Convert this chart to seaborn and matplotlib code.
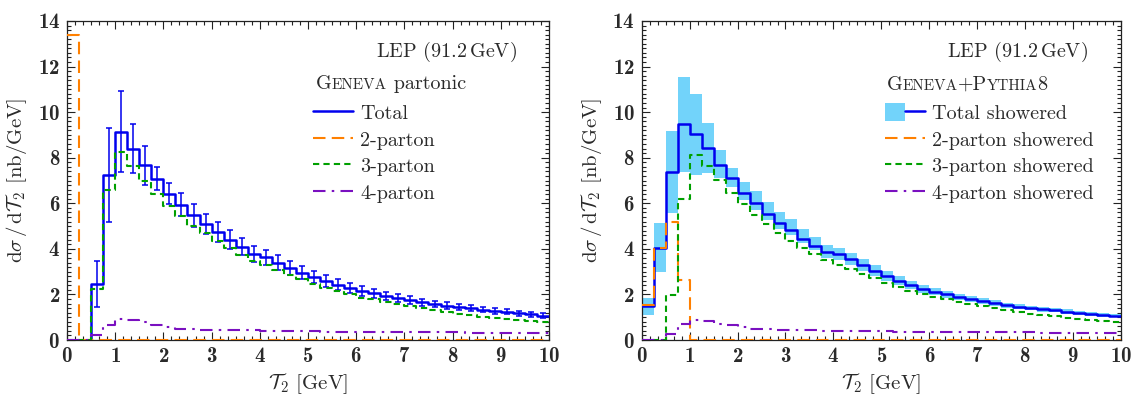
import numpy as np
import matplotlib
matplotlib.use("Agg")
import matplotlib.pyplot as plt
import seaborn as sns
from matplotlib.lines import Line2D
from matplotlib.patches import Patch
from matplotlib.legend_handler import HandlerTuple
from matplotlib.offsetbox import TextArea, HPacker, AnnotationBbox
from matplotlib.ticker import MultipleLocator, AutoMinorLocator

# ---------------- data ----------------
edges = [i * 0.25 for i in range(41)]  # bin edges of T2 [GeV]

left_total = [0, 0, 2.46, 7.24, 9.14, 8.39, 7.66, 7.08, 6.42, 5.94, 5.48, 5.10, 4.75, 4.40, 4.09, 3.79,
              3.63, 3.39, 3.17, 2.95, 2.76, 2.59, 2.43, 2.28, 2.15, 2.05, 1.93, 1.83, 1.74, 1.65, 1.58, 1.51,
              1.45, 1.39, 1.33, 1.27, 1.23, 1.18, 1.13, 1.07]
left_total_err = [0, 0, 1.00, 2.05, 1.77, 1.07, 0.84, 0.50, 0.45, 0.50, 0.50, 0.45, 0.45, 0.42, 0.38, 0.35,
                  0.34, 0.32, 0.30, 0.28, 0.27, 0.25, 0.24, 0.23, 0.22, 0.20, 0.19, 0.18, 0.17, 0.16, 0.15, 0.14,
                  0.13, 0.13, 0.12, 0.12, 0.11, 0.11, 0.10, 0.10]
left_2p = [13.4] + [0] * 39
left_3p = [0, 0, 2.22, 6.58, 8.25, 7.63, 7.00, 6.40, 5.88, 5.44, 5.01, 4.68, 4.36, 4.04, 3.73, 3.46,
           3.30, 3.07, 2.86, 2.66, 2.47, 2.30, 2.15, 2.01, 1.85, 1.78, 1.68, 1.60, 1.48, 1.40, 1.30, 1.23,
           1.15, 1.10, 1.00, 0.95, 0.90, 0.86, 0.82, 0.77]
left_4p = [0, 0, 0.22, 0.66, 0.92, 0.87, 0.80, 0.66, 0.55, 0.50, 0.48, 0.46, 0.45, 0.44, 0.43, 0.42,
           0.41, 0.40, 0.39, 0.39, 0.38, 0.37, 0.37, 0.36, 0.36, 0.35, 0.35, 0.34, 0.34, 0.34, 0.33, 0.33,
           0.33, 0.32, 0.32, 0.32, 0.31, 0.31, 0.31, 0.30]

right_total = [1.49, 4.02, 7.37, 9.49, 9.04, 8.42, 7.69, 7.12, 6.46, 6.02, 5.54, 5.12, 4.82, 4.43, 4.12, 3.85,
               3.77, 3.54, 3.29, 3.04, 2.81, 2.59, 2.41, 2.25, 2.12, 2.00, 1.89, 1.78, 1.70, 1.61, 1.52, 1.46,
               1.40, 1.35, 1.30, 1.24, 1.20, 1.15, 1.11, 1.07]
right_total_hi = [1.83, 5.12, 9.17, 11.54, 10.80, 9.53, 8.33, 7.53, 6.92, 6.54, 6.07, 5.63, 5.29, 4.85, 4.53, 4.17,
                  4.05, 3.82, 3.56, 3.29, 3.04, 2.80, 2.60, 2.43, 2.29, 2.16, 2.04, 1.92, 1.84, 1.74, 1.64, 1.58,
                  1.51, 1.46, 1.40, 1.34, 1.29, 1.24, 1.20, 1.16]
right_total_lo = [1.10, 3.00, 5.56, 7.38, 7.24, 7.31, 7.09, 6.73, 6.14, 5.70, 5.26, 4.85, 4.60, 4.24, 3.95, 3.58,
                  3.49, 3.27, 3.05, 2.82, 2.60, 2.40, 2.23, 2.08, 1.96, 1.85, 1.75, 1.65, 1.57, 1.49, 1.41, 1.35,
                  1.30, 1.25, 1.21, 1.15, 1.11, 1.07, 1.03, 0.99]
right_2p = [1.54, 4.05, 5.19, 2.62] + [0] * 36
right_3p = [0, 0, 1.97, 6.18, 8.14, 7.65, 7.02, 6.46, 5.95, 5.48, 5.07, 4.68, 4.36, 4.04, 3.77, 3.51,
            3.30, 3.12, 2.90, 2.72, 2.50, 2.33, 2.17, 2.03, 1.90, 1.80, 1.68, 1.58, 1.48, 1.40, 1.31, 1.24,
            1.16, 1.10, 1.04, 0.98, 0.92, 0.87, 0.82, 0.77]
right_4p = [0, 0, 0.25, 0.70, 0.88, 0.82, 0.72, 0.65, 0.58, 0.50, 0.47, 0.45, 0.44, 0.43, 0.42, 0.41,
            0.41, 0.40, 0.39, 0.39, 0.38, 0.37, 0.37, 0.36, 0.36, 0.35, 0.35, 0.34, 0.34, 0.34, 0.33, 0.33,
            0.33, 0.32, 0.32, 0.32, 0.31, 0.31, 0.31, 0.30]

left_labels = ["Total", "2-parton", "3-parton", "4-parton"]
right_labels = ["Total showered", "2-parton showered", "3-parton showered", "4-parton showered"]
energy_label = r"LEP (91.2$\,$GeV)"
xlabel = r"$\mathcal{T}_2$ [GeV]"
ylabel = r"$\mathrm{d}\sigma\,/\,\mathrm{d}\mathcal{T}_2$ [nb/GeV]"

# ---------------- style ----------------
sns.set_theme(style="ticks")
plt.rcParams.update({
    "font.family": "serif",
    "font.serif": ["cmr10"],
    "mathtext.fontset": "cm",
    "axes.formatter.use_mathtext": True,
    "axes.unicode_minus": False,
    "text.color": "#2a2a2a",
    "axes.labelcolor": "#2a2a2a",
    "axes.edgecolor": "#222222",
    "xtick.color": "#222222",
    "ytick.color": "#222222",
    "axes.linewidth": 0.9,
})

BLUE = "#0000ee"
ORANGE = "#ff8000"
GREEN = "#00a000"
PURPLE = "#7a10c0"
BAND = "#72d3fa"
TXT = "#2a2a2a"
FS = 14.5

ls2 = (0, (6, 3))
ls3 = (0, (3, 2))
ls4 = (0, (6, 3, 1.2, 3))

fig = plt.figure(figsize=(11.34, 3.96), dpi=100)
W, H = 1134.0, 396.0
axL = fig.add_axes([67 / W, (H - 340) / H, 482 / W, 319 / H])
axR = fig.add_axes([641.7 / W, (H - 340) / H, 479.3 / W, 319 / H])


def step(ax, vals, color, lw, ls="-", z=2):
    y = list(vals) + [vals[-1]]
    sns.lineplot(x=edges, y=y, ax=ax, drawstyle="steps-post", estimator=None, sort=False,
                 color=color, lw=lw, linestyle=ls, legend=False, zorder=z)


centers = [e + 0.125 for e in edges[:-1]]

# left panel
step(axL, left_total, BLUE, 1.8, "-", 3)
axL.errorbar(centers[2:], left_total[2:], yerr=left_total_err[2:], fmt="none", ecolor=BLUE,
             elinewidth=1.1, capsize=2.2, capthick=1.1, zorder=3)
step(axL, left_2p, ORANGE, 1.5, ls2, 4)
step(axL, left_3p, GREEN, 1.5, ls3, 4)
step(axL, left_4p, PURPLE, 1.5, ls4, 4)

# right panel
axR.fill_between(edges, right_total_lo + [right_total_lo[-1]], right_total_hi + [right_total_hi[-1]],
                 step="post", color=BAND, lw=0, zorder=1)
step(axR, right_total, BLUE, 1.8, "-", 3)
step(axR, right_2p, ORANGE, 1.5, ls2, 4)
step(axR, right_3p, GREEN, 1.5, ls3, 4)
step(axR, right_4p, PURPLE, 1.5, ls4, 4)

for ax in (axL, axR):
    ax.set_xlim(0, 10)
    ax.set_ylim(0, 14)
    ax.xaxis.set_major_locator(MultipleLocator(1))
    ax.xaxis.set_minor_locator(AutoMinorLocator(6))
    ax.yaxis.set_major_locator(MultipleLocator(2))
    ax.yaxis.set_minor_locator(AutoMinorLocator(10))
    ax.tick_params(which="both", direction="in", top=True, right=True, width=0.8,
                   labelsize=15, labelcolor=TXT, labelfontfamily="cmb10")
    ax.tick_params(which="major", length=6)
    ax.tick_params(which="minor", length=3)
    ax.tick_params(axis="x", pad=5)
    ax.tick_params(axis="y", pad=5)
    ax.set_xlabel(xlabel, fontsize=FS + 0.5, labelpad=4)
    ax.set_ylabel(ylabel, fontsize=FS + 0.5, labelpad=6)
    for s in ax.spines.values():
        s.set_visible(True)


def title_box(ax, parts, x, y):
    areas = [TextArea(t, textprops=dict(fontsize=s, color=TXT, family="cmr10")) for t, s in parts]
    box = HPacker(children=areas, align="baseline", pad=0, sep=0)
    ab = AnnotationBbox(box, (x, y), xycoords="axes fraction", box_alignment=(0, 0.5),
                        frameon=False, pad=0)
    ax.add_artist(ab)


SC = 11.0
LEG = dict(loc="upper left", frameon=False, fontsize=FS, handlelength=2.0, handletextpad=0.35,
           labelspacing=0.335, borderpad=0, borderaxespad=0, handleheight=1.0, labelcolor=TXT)

# left annotations
axL.text(0.934, 0.903, energy_label, transform=axL.transAxes, ha="right", va="center", fontsize=FS)
title_box(axL, [("G", FS), ("ENEVA", SC), (" partonic", FS)], 0.517, 0.803)
hL = [Line2D([], [], color=BLUE, lw=1.8),
      Line2D([], [], color=ORANGE, lw=1.5, linestyle=ls2),
      Line2D([], [], color=GREEN, lw=1.5, linestyle=ls3),
      Line2D([], [], color=PURPLE, lw=1.5, linestyle=ls4)]
axL.legend(hL, left_labels, bbox_to_anchor=(0.510, 0.743), **LEG)

# right annotations
axR.text(0.931, 0.903, energy_label, transform=axR.transAxes, ha="right", va="center", fontsize=FS)
title_box(axR, [("G", FS), ("ENEVA", SC), ("+P", FS), ("YTHIA", SC), ("8", FS)], 0.511, 0.800)
hR = [(Patch(facecolor=BAND, edgecolor="none"), Line2D([], [], color=BLUE, lw=1.8)),
      Line2D([], [], color=ORANGE, lw=1.5, linestyle=ls2),
      Line2D([], [], color=GREEN, lw=1.5, linestyle=ls3),
      Line2D([], [], color=PURPLE, lw=1.5, linestyle=ls4)]
axR.legend(hR, right_labels, bbox_to_anchor=(0.5075, 0.743),
           handler_map={tuple: HandlerTuple(ndivide=None, pad=0)}, **LEG)

fig.savefig("out.png", dpi=100)
